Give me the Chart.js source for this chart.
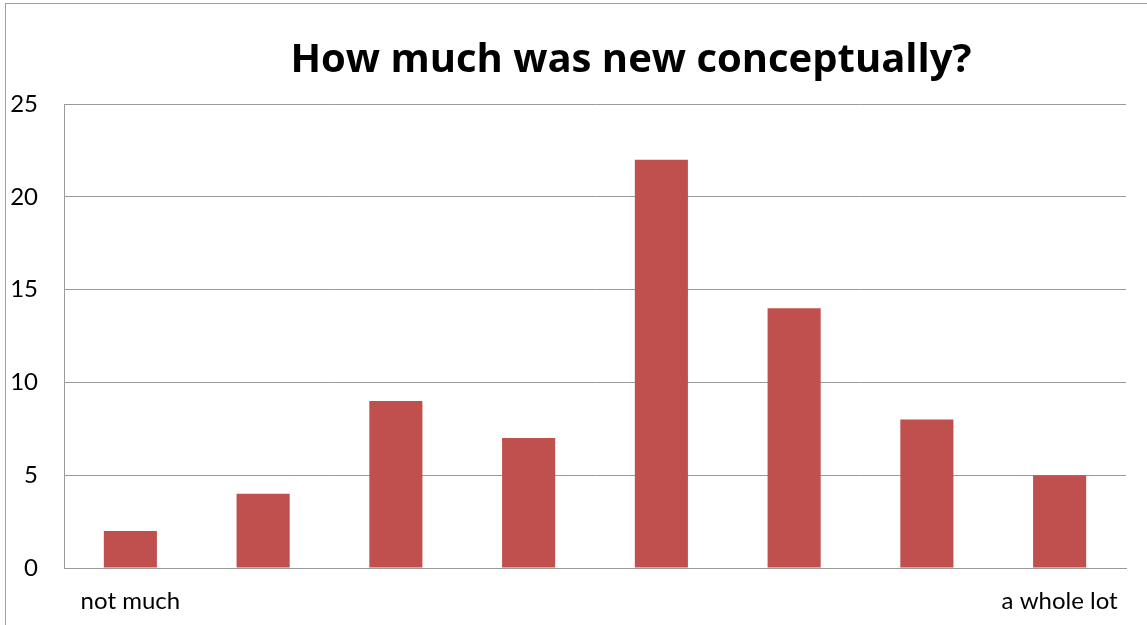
<!DOCTYPE html>
<html>
<head>
<meta charset="utf-8">
<script src="https://cdn.jsdelivr.net/npm/chart.js@4"></script>
<style>
  html, body { margin: 0; padding: 0; background: #fff; }
  #wrap { width: 1147px; height: 625px; }
</style>
</head>
<body>
<div id="wrap"><canvas id="chart" width="1147" height="625"></canvas></div>
<script>
const chartTitle = 'How much was new conceptually?';
const categories = ['not much', '', '', '', '', '', '', 'a whole lot'];
const counts = [2, 4, 9, 7, 22, 14, 8, 5];
const yTicks = [0, 5, 10, 15, 20, 25];

// frame around the whole chart plus the heading
const framePlugin = {
  id: 'frameAndTitle',
  beforeDraw: (chart) => {
    const { ctx } = chart;
    ctx.save();
    ctx.fillStyle = '#fff';
    ctx.fillRect(0, 0, chart.width, chart.height);
    ctx.strokeStyle = '#a0a0a0';
    ctx.lineWidth = 1;
    ctx.strokeRect(5.5, 3.5, chart.width + 20, chart.height + 20);
    ctx.restore();
  },
  afterDraw: (chart) => {
    const { ctx } = chart;
    ctx.save();
    ctx.fillStyle = '#000';
    ctx.font = 'bold 40px "Open Sans"';
    ctx.textAlign = 'center';
    ctx.textBaseline = 'alphabetic';
    ctx.fillText(chartTitle, 631, 72);
    ctx.restore();
  }
};

new Chart(document.getElementById('chart'), {
  type: 'bar',
  data: {
    labels: categories,
    datasets: [{
      data: counts,
      backgroundColor: '#C0504D',
      categoryPercentage: 1,
      barPercentage: 0.4
    }]
  },
  options: {
    responsive: false,
    animation: false,
    layout: { padding: { top: 104, right: 21, left: 0, bottom: 0 } },
    plugins: {
      legend: { display: false },
      tooltip: { enabled: false }
    },
    scales: {
      x: {
        grid: { display: false, drawTicks: false },
        border: { display: true, color: '#9a9a9a', width: 1 },
        ticks: {
          color: '#000',
          font: { family: 'Lato', size: 24 },
          padding: 19,
          maxRotation: 0,
          autoSkip: false
        },
        afterFit: (axis) => { axis.height = 57; }
      },
      y: {
        min: 0,
        max: 25,
        afterBuildTicks: (axis) => { axis.ticks = yTicks.map(v => ({ value: v })); },
        grid: { color: '#9a9a9a', drawTicks: false },
        border: { display: true, color: '#9a9a9a', width: 1 },
        ticks: {
          color: '#000',
          font: { family: 'Lato', size: 24 },
          padding: 26
        },
        afterFit: (axis) => { axis.width = 64; }
      }
    }
  },
  plugins: [framePlugin]
});
</script>
</body>
</html>
